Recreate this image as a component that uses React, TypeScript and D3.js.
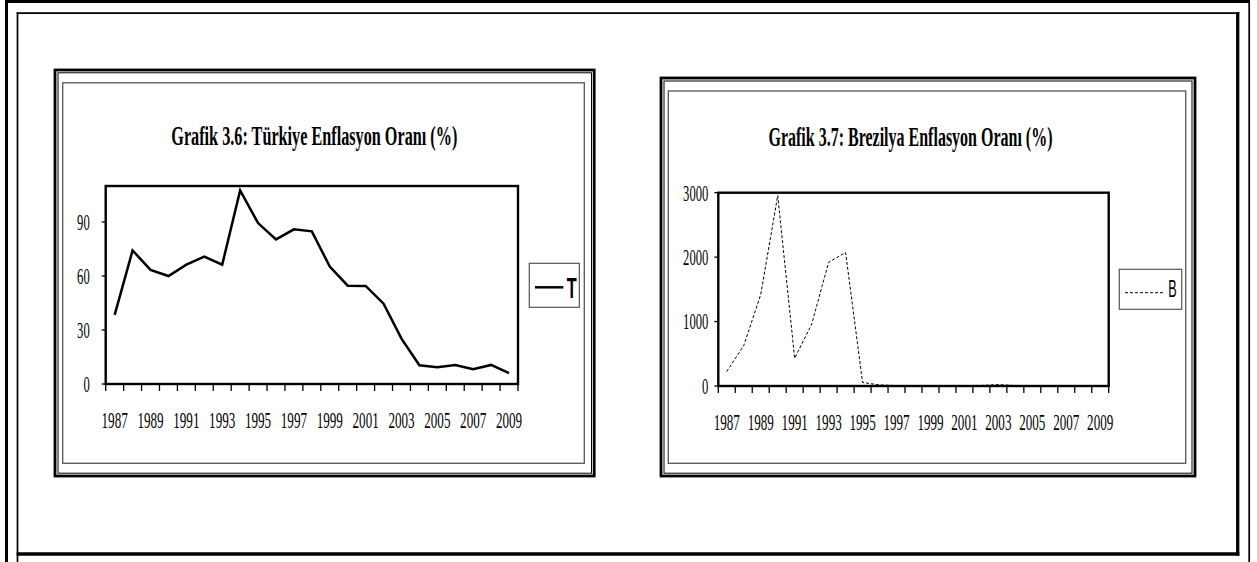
import React from 'react';
import * as d3 from 'd3';

const years = [1987, 1988, 1989, 1990, 1991, 1992, 1993, 1994, 1995, 1996, 1997, 1998, 1999, 2000, 2001, 2002, 2003, 2004, 2005, 2006, 2007, 2008, 2009];
const turkeyInflation = [38.4, 74.2, 63.4, 60.0, 66.3, 70.8, 66.3, 107.5, 89.4, 80.3, 85.9, 84.8, 65.2, 54.6, 54.5, 44.6, 25.2, 10.4, 9.3, 10.6, 8.2, 10.6, 6.0];
const brazilInflation = [225, 628, 1420, 2955, 431, 958, 1920, 2072, 55, 16, 7, 3, 5, 7, 7, 9, 22, 7, 7, 4, 4, 6, 5];
const xTickLabels = ['1987', '1989', '1991', '1993', '1995', '1997', '1999', '2001', '2003', '2005', '2007', '2009'];
const turkeyYTicks = [0, 30, 60, 90];
const brazilYTicks = [0, 1000, 2000, 3000];

type PanelProps = {
  thick: [number, number, number, number];
  thin: [number, number, number, number];
  area: [number, number, number, number];
  plot: [number, number, number, number];
  yMax: number;
  yTicks: number[];
  values: number[];
  title: string;
  titleX: number;
  titleY: number;
  titleW: number;
  yLabelGap: number;
  xLabelOffset: number;
  lineWidth: number;
  dash?: string;
  legend: { x: number; y: number; w: number; h: number; lx1: number; lx2: number; ly: number; tx: number; ty: number; size: number; bold: boolean; sx: number; label: string };
};

const serif = '"Liberation Serif", "Times New Roman", serif';
const sans = '"Liberation Sans", Arial, sans-serif';

function rectOf(b: [number, number, number, number]) {
  return { x: b[0], y: b[1], width: b[2] - b[0], height: b[3] - b[1] };
}

function Panel(p: PanelProps) {
  const [left, top, right, bottom] = p.plot;
  const x = d3.scaleBand<number>().domain(years).range([left, right]).padding(0);
  const bw = x.bandwidth();
  const y = d3.scaleLinear().domain([0, p.yMax]).range([bottom, top]);
  const line = d3
    .line<number>()
    .x((_, i) => (x(years[i]) as number) + bw / 2)
    .y((d) => y(d));
  const tickXs = [...years.map((yr) => x(yr) as number), right];
  const L = p.legend;
  return (
    <g>
      <rect {...rectOf(p.thick)} fill="none" stroke="#000" strokeWidth={2.8} />
      <rect {...rectOf(p.thin)} fill="none" stroke="#000" strokeWidth={1} />
      <rect {...rectOf(p.area)} fill="none" stroke="#555" strokeWidth={1.3} />
      <text
        x={p.titleX}
        y={p.titleY}
        textAnchor="middle"
        fontFamily={serif}
        fontWeight="bold"
        fontSize={27.5}
        textLength={p.titleW}
        lengthAdjust="spacingAndGlyphs"
      >
        {p.title}
      </text>
      <rect x={left} y={top} width={right - left} height={bottom - top} fill="none" stroke="#000" strokeWidth={2.4} />
      {tickXs.map((tx, i) => (
        <line key={'xt' + i} x1={tx} x2={tx} y1={bottom} y2={bottom + 7} stroke="#000" strokeWidth={1.3} />
      ))}
      {p.yTicks.map((t) => (
        <g key={'yt' + t}>
          <line x1={left - 4} x2={left} y1={y(t)} y2={y(t)} stroke="#000" strokeWidth={1.3} />
          <text
            transform={`translate(${left - p.yLabelGap},${y(t)}) scale(0.56,1)`}
            textAnchor="end"
            dy="0.35em"
            fontFamily={serif}
            fontSize={22.5}
          >
            {t}
          </text>
        </g>
      ))}
      {xTickLabels.map((lab) => {
        const yr = +lab;
        const cx = (x(yr) as number) + bw / 2;
        return (
          <text
            key={'xl' + lab}
            transform={`translate(${cx},${bottom + p.xLabelOffset}) scale(0.57,1)`}
            textAnchor="middle"
            fontFamily={serif}
            fontSize={23}
          >
            {lab}
          </text>
        );
      })}
      <path d={line(p.values) || ''} fill="none" stroke="#000" strokeWidth={p.lineWidth} strokeDasharray={p.dash} strokeLinejoin="miter" />
      <rect x={L.x} y={L.y} width={L.w} height={L.h} fill="none" stroke="#555" strokeWidth={1.2} />
      <line x1={L.lx1} x2={L.lx2} y1={L.ly} y2={L.ly} stroke="#000" strokeWidth={p.lineWidth} strokeDasharray={p.dash} />
      <text
        transform={`translate(${L.tx},${L.ty}) scale(${L.sx},1)`}
        fontFamily={sans}
        fontWeight={L.bold ? 'bold' : 'normal'}
        fontSize={L.size}
      >
        {L.label}
      </text>
    </g>
  );
}

export default function App() {
  return (
    <svg
      width={1257}
      height={562}
      viewBox="0 0 1257 562"
      style={{ position: 'absolute', left: 0, top: 0, background: '#fff' }}
    >
      <rect x={0} y={0} width={1257} height={562} fill="#fff" />
      <line x1={5} x2={1250} y1={1.5} y2={1.5} stroke="#000" strokeWidth={3} />
      <line x1={6.5} x2={6.5} y1={0} y2={562} stroke="#000" strokeWidth={3} />
      <line x1={1249.2} x2={1249.2} y1={0} y2={562} stroke="#000" strokeWidth={1.7} />
      <line x1={16.7} x2={1239.3} y1={13.2} y2={13.2} stroke="#000" strokeWidth={1.7} />
      <line x1={17.5} x2={17.5} y1={12.3} y2={562} stroke="#000" strokeWidth={1.7} />
      <line x1={1237.7} x2={1237.7} y1={12.3} y2={555.7} stroke="#000" strokeWidth={3.3} />
      <line x1={16.7} x2={1239.3} y1={554} y2={554} stroke="#000" strokeWidth={3.3} />

      <Panel
        thick={[55, 70, 594.2, 476]}
        thin={[58, 72.8, 591.5, 473.2]}
        area={[62.7, 82.8, 584.3, 463.3]}
        plot={[105.7, 186, 518, 384]}
        yMax={110}
        yTicks={turkeyYTicks}
        values={turkeyInflation}
        title="Grafik 3.6: Türkiye Enflasyon Oranı (%)"
        titleX={314.3}
        titleY={144.5}
        titleW={286}
        yLabelGap={16}
        xLabelOffset={44}
        lineWidth={2.5}
        legend={{ x: 529.3, y: 263.3, w: 50, h: 44, lx1: 535, lx2: 563.3, ly: 287.3, tx: 566.7, ty: 298, size: 29, bold: true, sx: 0.56, label: 'T' }}
      />
      <Panel
        thick={[661, 78, 1195, 476]}
        thin={[664, 81, 1192, 473.2]}
        area={[668.3, 91, 1185.7, 463.3]}
        plot={[718.3, 192.7, 1108.7, 386]}
        yMax={3000}
        yTicks={brazilYTicks}
        values={brazilInflation}
        title="Grafik 3.7: Brezilya Enflasyon Oranı (%)"
        titleX={910.5}
        titleY={145.5}
        titleW={284}
        yLabelGap={10}
        xLabelOffset={44}
        lineWidth={1}
        dash="3 2"
        legend={{ x: 1119.3, y: 269.3, w: 62.4, h: 40, lx1: 1125, lx2: 1165, ly: 292.7, tx: 1168.3, ty: 296.7, size: 23, bold: false, sx: 0.55, label: 'B' }}
      />
    </svg>
  );
}
